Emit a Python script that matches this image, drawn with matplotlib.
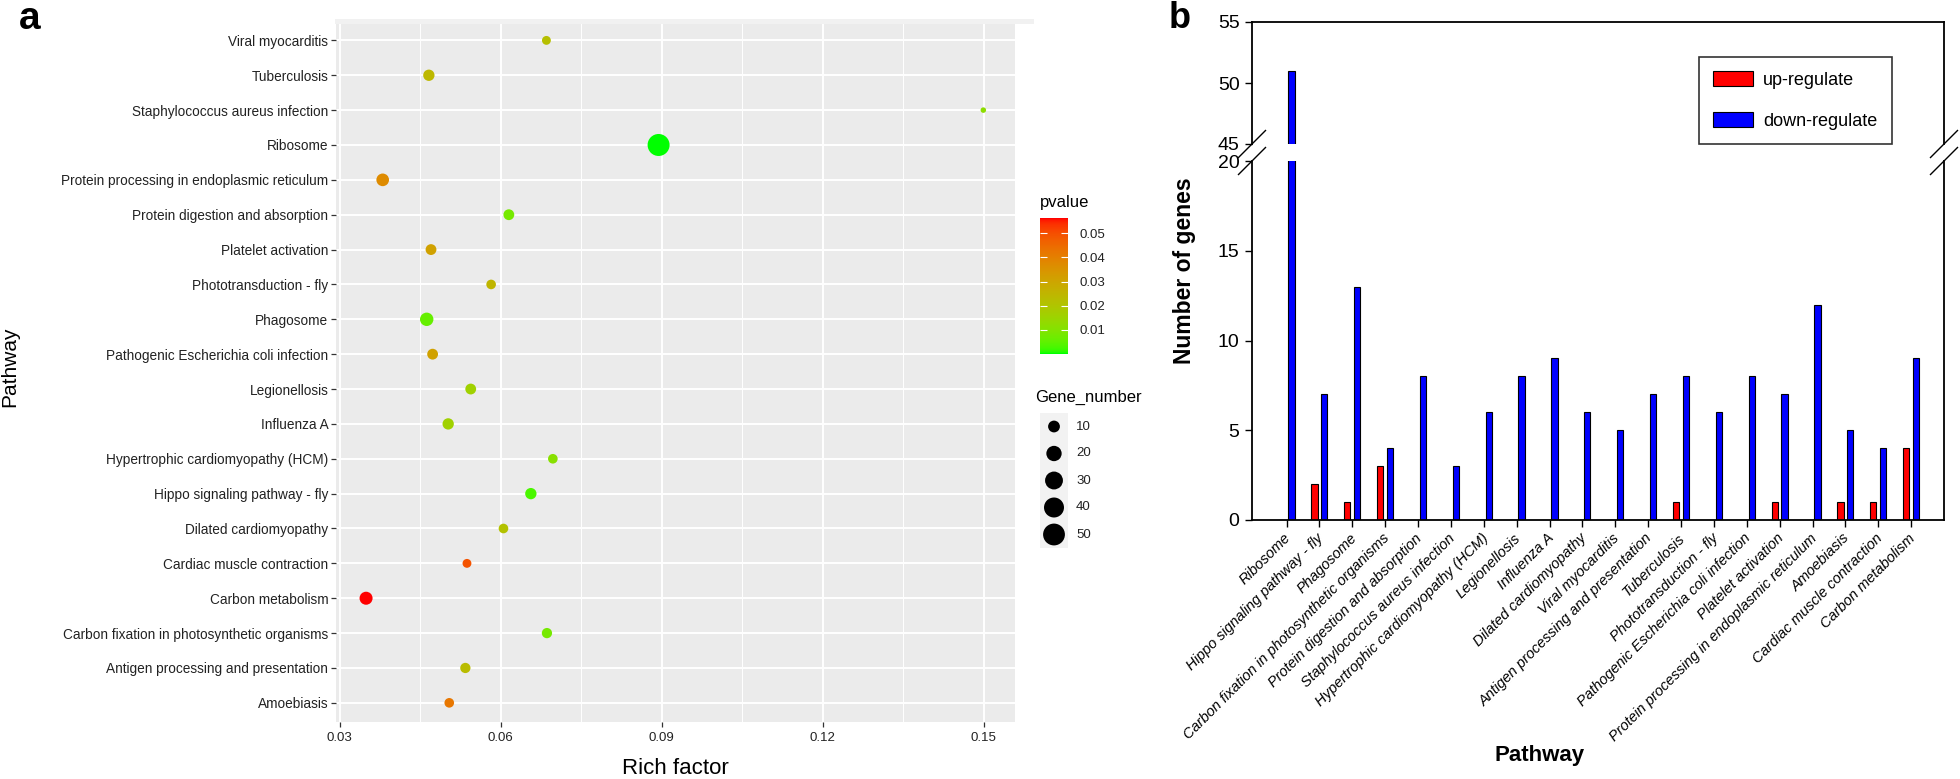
"""
KEGG enrichment: (a) bubble chart of rich factor, (b) up/down genes per pathway
with a broken y axis.
"""

import numpy as np
import matplotlib
matplotlib.use('Agg')
import matplotlib.pyplot as plt
from matplotlib.colors import ListedColormap, Normalize
from matplotlib.patches import Patch, Rectangle
from matplotlib.lines import Line2D
from matplotlib.ticker import MultipleLocator
from matplotlib.transforms import ScaledTranslation

plt.rcParams['font.family'] = ['Liberation Sans', 'DejaVu Sans']

# ---- panel a data (bottom -> top) ----
pathways_a = [
    'Amoebiasis',
    'Antigen processing and presentation',
    'Carbon fixation in photosynthetic organisms',
    'Carbon metabolism',
    'Cardiac muscle contraction',
    'Dilated cardiomyopathy',
    'Hippo signaling pathway - fly',
    'Hypertrophic cardiomyopathy (HCM)',
    'Influenza A',
    'Legionellosis',
    'Pathogenic Escherichia coli infection',
    'Phagosome',
    'Phototransduction - fly',
    'Platelet activation',
    'Protein digestion and absorption',
    'Protein processing in endoplasmic reticulum',
    'Ribosome',
    'Staphylococcus aureus infection',
    'Tuberculosis',
    'Viral myocarditis',
]
rich_factor = [0.0504, 0.0534, 0.0686, 0.0349, 0.0537, 0.0605, 0.0656, 0.0697,
               0.0502, 0.0544, 0.0473, 0.0462, 0.0582, 0.0470, 0.0615, 0.0380,
               0.0894, 0.1499, 0.0466, 0.0685]
gene_number = [6, 7, 7, 13, 5, 6, 9, 6, 9, 8, 8, 14, 6, 8, 8, 12, 51, 3, 9, 5]
pvalue = [0.042, 0.023, 0.008, 0.0562, 0.049, 0.021, 0.003, 0.011, 0.016, 0.016,
          0.031, 0.006, 0.025, 0.031, 0.008, 0.037, 0.0001, 0.012, 0.024, 0.022]

rich_ticks = [0.03, 0.06, 0.09, 0.12, 0.15]
pvalue_ticks = [0.01, 0.02, 0.03, 0.04, 0.05]
size_legend = [10, 20, 30, 40, 50]

# ---- panel b data ----
pathways_b = [
    'Ribosome',
    'Hippo signaling pathway - fly',
    'Phagosome',
    'Carbon fixation in photosynthetic organisms',
    'Protein digestion and absorption',
    'Staphylococcus aureus infection',
    'Hypertrophic cardiomyopathy (HCM)',
    'Legionellosis',
    'Influenza A',
    'Dilated cardiomyopathy',
    'Viral myocarditis',
    'Antigen processing and presentation',
    'Tuberculosis',
    'Phototransduction - fly',
    'Pathogenic Escherichia coli infection',
    'Platelet activation',
    'Protein processing in endoplasmic reticulum',
    'Amoebiasis',
    'Cardiac muscle contraction',
    'Carbon metabolism',
]
up_regulate = [0, 2, 1, 3, 0, 0, 0, 0, 0, 0, 0, 0, 1, 0, 0, 1, 0, 1, 1, 4]
down_regulate = [51, 7, 13, 4, 8, 3, 6, 8, 9, 6, 5, 7, 8, 6, 8, 7, 12, 5, 4, 9]
low_ticks = [0, 5, 10, 15, 20]
high_ticks = [45, 50, 55]

W, H = 1960, 779


def rect(left, top, right, bottom):
    """pixel box (from top-left) -> figure fraction [l, b, w, h]"""
    return [left / W, 1 - bottom / H, (right - left) / W, (bottom - top) / H]


def lab_gradient(c1, c2, n=256):
    """ggplot-like gradient: interpolate two sRGB colours in CIELAB"""
    M = np.array([[0.4124, 0.3576, 0.1805],
                  [0.2126, 0.7152, 0.0722],
                  [0.0193, 0.1192, 0.9505]])
    white = np.array([0.95047, 1.0, 1.08883])
    d = 6 / 29

    def to_lab(rgb):
        c = np.asarray(rgb, float)
        lin = np.where(c <= 0.04045, c / 12.92, ((c + 0.055) / 1.055) ** 2.4)
        xyz = M @ lin / white
        f = np.where(xyz > d ** 3, np.cbrt(xyz), xyz / (3 * d * d) + 4 / 29)
        return np.array([116 * f[1] - 16, 500 * (f[0] - f[1]), 200 * (f[1] - f[2])])

    def to_rgb(lab):
        fy_ = (lab[0] + 16) / 116
        f = np.array([fy_ + lab[1] / 500, fy_, fy_ - lab[2] / 200])
        xyz = np.where(f > d, f ** 3, 3 * d * d * (f - 4 / 29)) * white
        lin = np.clip(np.linalg.solve(M, xyz), 0, 1)
        return np.clip(np.where(lin <= 0.0031308, 12.92 * lin,
                                1.055 * lin ** (1 / 2.4) - 0.055), 0, 1)

    a, b = to_lab(c1), to_lab(c2)
    return ListedColormap([to_rgb(a + (b - a) * t) for t in np.linspace(0, 1, n)])


def point_area(n, nmin, nmax):
    # ggplot scale_size: radius ~ sqrt, range 1..6
    size = 1 + 5 * np.sqrt((np.asarray(n, float) - nmin) / (nmax - nmin))
    diam_px = 3.3 * size + 2.2
    return (diam_px * 0.72) ** 2


fig = plt.figure(figsize=(19.6, 7.79), dpi=100)

# ================= panel a =================
cmap = lab_gradient((0, 1, 0), (1, 0, 0))
norm = Normalize(min(pvalue), max(pvalue))
nmin, nmax = min(gene_number), max(gene_number)

ax_a = fig.add_axes(rect(336, 24, 1015, 722))
ax_a.set_facecolor('#EBEBEB')
ypos = np.arange(len(pathways_a))
ax_a.scatter(rich_factor, ypos, s=point_area(gene_number, nmin, nmax),
             c=pvalue, cmap=cmap, norm=norm, linewidths=0, zorder=3)
ax_a.set_ylim(-0.55, 19.47)
ax_a.set_xlim(0.0293, 0.1558)
ax_a.set_yticks(ypos)
ax_a.set_yticklabels(pathways_a)
ax_a.set_xticks(rich_ticks)
ax_a.set_xticklabels([f'{t:.2f}' for t in rich_ticks])
ax_a.xaxis.set_minor_locator(MultipleLocator(0.015))
ax_a.set_axisbelow(True)
ax_a.grid(which='major', color='white', lw=1.4)
ax_a.grid(which='minor', axis='x', color='white', lw=0.7)
for s in ax_a.spines.values():
    s.set_visible(False)
ax_a.tick_params(which='major', length=3.5, width=0.9, color='#333333',
                 labelcolor='#222222', pad=2)
ax_a.tick_params(axis='y', labelsize=9.8)
ax_a.tick_params(axis='x', labelsize=9.5, pad=4)
ax_a.tick_params(which='minor', length=0)
ax_a.set_xlabel('Rich factor', fontsize=16, labelpad=10)
fig.text(10 / W, 1 - 367 / H, 'Pathway', rotation=90, fontsize=15,
         ha='center', va='center')
fig.add_artist(Rectangle((335 / W, 1 - 24 / H), (1034 - 335) / W, 5 / H,
                         color='#f1f1f1', lw=0))
fig.text(30 / W, 1 - 19 / H, 'a', fontsize=28, fontweight='bold',
         ha='center', va='center')

# colour bar
fig.text(1040 / W, 1 - 203 / H, 'pvalue', fontsize=12, ha='left', va='center')
cax = fig.add_axes(rect(1040, 218, 1068, 354))
sm = plt.cm.ScalarMappable(norm=norm, cmap=cmap)
cb = fig.colorbar(sm, cax=cax, ticks=pvalue_ticks)
cb.outline.set_visible(False)
cb.ax.set_yticklabels([f'{t:.2f}' for t in pvalue_ticks])
cb.ax.tick_params(direction='in', color='white', length=5, width=0.8,
                  left=True, right=True, labelsize=9.5, labelcolor='#222222', pad=8)

# size legend
fig.text(1035 / W, 1 - 397 / H, 'Gene_number', fontsize=12, ha='left', va='center')
lax = fig.add_axes(rect(1040, 413, 1068, 548))
lax.set_facecolor('#F2F2F2')
lpos = np.arange(len(size_legend))[::-1]
lax.scatter([0.5] * len(size_legend), lpos,
            s=point_area(size_legend, nmin, nmax), color='black', linewidths=0)
for v, yy in zip(size_legend, lpos):
    lax.text(1.29, yy, str(v), fontsize=9.5, color='#222222', va='center',
             ha='left', transform=lax.get_yaxis_transform())
lax.set_xlim(0, 1)
lax.set_ylim(-0.5, len(size_legend) - 0.5)
lax.set_xticks([])
lax.set_yticks([])
for s in lax.spines.values():
    s.set_visible(False)

# ================= panel b =================
xb = np.arange(len(pathways_b))
bw, off = 0.19, 0.15
ax_hi = fig.add_axes(rect(1252, 22, 1944, 144))
ax_lo = fig.add_axes(rect(1252, 161, 1944, 520))
for ax in (ax_hi, ax_lo):
    ax.bar(xb - off, up_regulate, width=bw, color='#FF0000', edgecolor='black', lw=0.8)
    ax.bar(xb + off, down_regulate, width=bw, color='#0000FF', edgecolor='black', lw=0.8)
    ax.set_xlim(-1.05, 20.0)
    for s in ax.spines.values():
        s.set_linewidth(1.3)
    ax.tick_params(axis='y', labelsize=14, length=5, width=1, pad=4)

ax_hi.set_ylim(45, 55)
ax_hi.set_yticks(high_ticks)
ax_hi.spines['bottom'].set_visible(False)
ax_hi.set_xticks([])

ax_lo.set_ylim(0, 20)
ax_lo.set_yticks(low_ticks)
ax_lo.spines['top'].set_visible(False)
ax_lo.set_xticks(xb)
ax_lo.set_xticklabels(pathways_b, rotation=45, ha='right', fontsize=10.5,
                      style='italic')
ax_lo.tick_params(axis='x', length=5, width=1, pad=3)
shift = ScaledTranslation(7 / 100, 0, fig.dpi_scale_trans)
for lbl in ax_lo.get_xticklabels():
    lbl.set_transform(lbl.get_transform() + shift)

# break marks on both sides
hb = ax_hi.get_position()
lb = ax_lo.get_position()
dx, dy = 13.5 / W, 13.5 / H
for xx in (hb.x0, hb.x1):
    for yy in (hb.y0, lb.y1):
        fig.add_artist(Line2D([xx - dx, xx + dx], [yy - dy, yy + dy],
                              color='black', lw=1))

fig.text(1185 / W, 1 - 271 / H, 'Number of genes', rotation=90, fontsize=16.5,
         fontweight='bold', ha='center', va='center')
fig.text(1540 / W, 1 - 755 / H, 'Pathway', fontsize=16, fontweight='bold',
         ha='center', va='center')
fig.text(1180 / W, 1 - 18 / H, 'b', fontsize=26, fontweight='bold',
         ha='center', va='center')

handles = [Patch(facecolor='#FF0000', edgecolor='black', lw=0.8),
           Patch(facecolor='#0000FF', edgecolor='black', lw=0.8)]
leg = fig.legend(handles, ['up-regulate', 'down-regulate'], loc='upper left',
                 bbox_to_anchor=(1699 / W, 1 - 57 / H), fontsize=13,
                 frameon=True, fancybox=False, edgecolor='black',
                 handlelength=2.2, handleheight=0.85, labelspacing=1.3,
                 borderpad=0.8, handletextpad=0.55, borderaxespad=0)
leg.get_frame().set_linewidth(1.2)

fig.savefig('out.png', dpi=100)
